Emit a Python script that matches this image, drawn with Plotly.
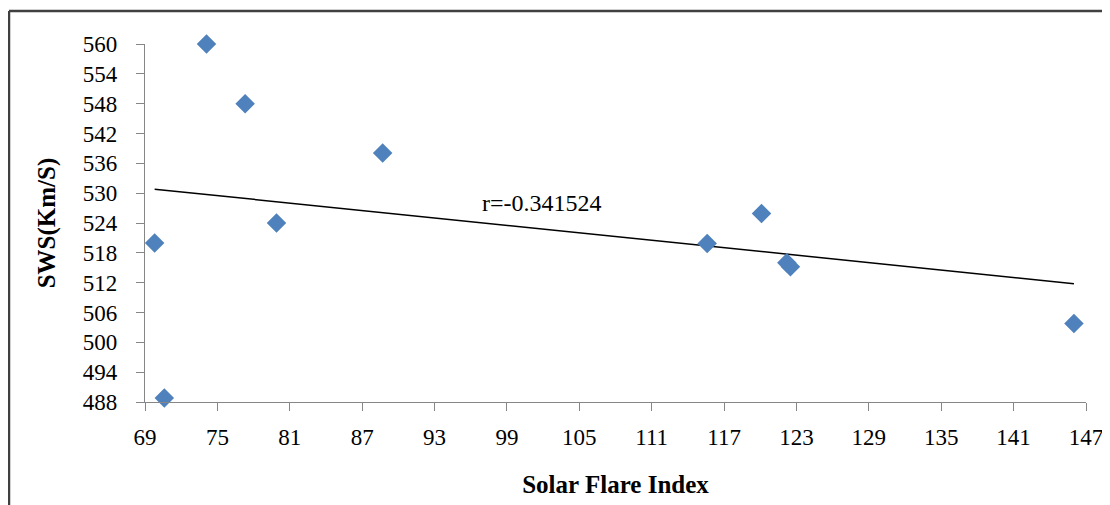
import plotly.graph_objects as go

# Data
solar_flare_index = [74.1, 77.3, 88.7, 79.9, 69.8, 70.6, 115.6, 120.1, 122.2, 122.5, 146.0]
sws_kms = [560.0, 548.0, 538.1, 524.0, 520.0, 488.8, 519.9, 525.9, 516.0, 515.2, 503.8]

trend_x = [69.8, 146.0]
trend_y = [530.8, 511.8]

x_ticks = list(range(69, 148, 6))
y_ticks = list(range(488, 561, 6))

r_label = "r=-0.341524"
r_pos = (101.9, 528.0)

# page body has an 8px margin; compensate
W, H = 1110, 505
L, R, T, B = 137, 32, 36, 111
pw = W - L - R
ph = H - T - B

font_family = "Liberation Serif, Times New Roman, serif"

fig = go.Figure()
fig.add_trace(go.Scatter(
    x=trend_x, y=trend_y, mode="lines",
    line=dict(color="black", width=1.5),
    showlegend=False, hoverinfo="skip",
))
fig.add_trace(go.Scatter(
    x=solar_flare_index, y=sws_kms, mode="markers",
    marker=dict(symbol="diamond", size=15, color="#4F81BD"),
    cliponaxis=False, showlegend=False,
))

fig.add_annotation(
    x=r_pos[0], y=r_pos[1], text=r_label, showarrow=False,
    font=dict(family=font_family, size=24, color="black"),
)

# Outer frame (left and top edges visible)
bx = (1 - L) / pw
by = (H - B - 3) / ph
fig.add_shape(type="line", xref="paper", yref="paper",
              x0=bx, y0=-1, x1=bx, y1=by,
              line=dict(color="#404040", width=2.5))
fig.add_shape(type="line", xref="paper", yref="paper",
              x0=bx, y0=by, x1=2, y1=by,
              line=dict(color="#404040", width=2.5))

axis_common = dict(
    showgrid=False, zeroline=False, showline=True,
    linecolor="#868686", linewidth=1.2,
    ticks="outside", ticklen=8, tickcolor="#868686", tickwidth=1.2,
    tickfont=dict(family=font_family, size=23, color="black"),
)

fig.update_layout(
    width=W, height=H,
    margin=dict(l=L, r=R, t=T, b=B),
    paper_bgcolor="white", plot_bgcolor="white",
    xaxis=dict(range=[69, 147], tickvals=x_ticks, ticklabelstandoff=6,
               **axis_common,
               title=dict(text="<b>Solar Flare Index</b>",
                          font=dict(family=font_family, size=25, color="black"),
                          standoff=26)),
    yaxis=dict(range=[488, 560], tickvals=y_ticks, ticklabelstandoff=14,
               **axis_common,
               title=dict(text="<b>SWS(Km/S)</b>",
                          font=dict(family=font_family, size=25, color="black"),
                          standoff=20)),
)

fig.write_html("out.html")
